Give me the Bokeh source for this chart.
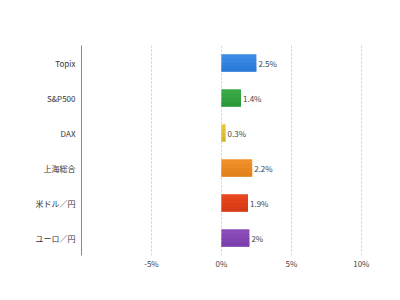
from bokeh.plotting import figure
from bokeh.models import ColumnDataSource, Range1d, FactorRange, FixedTicker, PrintfTickFormatter
from bokeh.transform import dodge
from bokeh.core.properties import value
from bokeh.embed import file_html
from bokeh.resources import INLINE

# Market changes (%)
markets = ["Topix", "S&P500", "DAX", "上海総合", "米ドル／円", "ユーロ／円"]
changes = [2.5, 1.4, 0.3, 2.2, 1.9, 2.0]
colors = ["#3a8ae6", "#3aa845", "#e8c83a", "#f0902a", "#e8461e", "#8a4cb8"]
dark_colors = ["#1f6ccc", "#208a30", "#c8a820", "#d87410", "#c83010", "#6c34a0"]
x_ticks = [-5, 0, 5, 10]

FONT = "Noto Sans CJK JP"

src = ColumnDataSource(dict(
    market=markets,
    change=changes,
    color=colors,
    dark=dark_colors,
    label=[f"{v:g}%" for v in changes],
))

p = figure(
    width=400, height=300,
    y_range=FactorRange(*reversed(markets)),
    x_range=Range1d(-10, 12.8),
    output_backend="svg", toolbar_location=None,
    min_border_left=81, min_border_right=0, min_border_top=45, min_border_bottom=45,
)
p.outline_line_color = None
p.background_fill_color = "white"
p.border_fill_color = "white"

# bars: lighter top shading down to a darker bottom
p.hbar(y="market", right="change", left=0, height=0.5, source=src,
       fill_color="color", line_color=None)
for off, h, a in [(-0.0625, 0.375, 0.15), (-0.125, 0.25, 0.2), (-0.1875, 0.125, 0.25)]:
    p.hbar(y=dodge("market", off, range=p.y_range), right="change", left=0, height=h,
           source=src, fill_color="dark", fill_alpha=a, line_color=None)

# value labels at the bar ends
p.text(x="change", y="market", text="label", source=src,
       x_offset=2, text_align="left", text_baseline="middle",
       text_font=value(FONT), text_font_size="8px", text_color="#444444")

# x axis: percent ticks, no axis line
p.xaxis.ticker = FixedTicker(ticks=x_ticks)
p.xaxis.formatter = PrintfTickFormatter(format="%d%%")
p.xaxis.axis_line_color = None
p.xaxis.major_tick_line_color = None
p.xaxis.major_tick_out = 0
p.xaxis.minor_tick_out = 0
p.xaxis.minor_tick_line_color = None
p.xaxis.major_label_text_font = FONT
p.xaxis.major_label_text_font_size = "8px"
p.xaxis.major_label_text_color = "#444444"
p.xaxis.major_label_standoff = 2

# y axis: category labels with a plain vertical line
p.yaxis.axis_line_color = "#888888"
p.yaxis.axis_line_width = 1
p.yaxis.major_tick_line_color = None
p.yaxis.major_tick_out = 0
p.yaxis.minor_tick_out = 0
p.yaxis.minor_tick_line_color = None
p.yaxis.major_label_text_font = FONT
p.yaxis.major_label_text_font_size = "8px"
p.yaxis.major_label_text_color = "#333333"
p.yaxis.major_label_standoff = 6

p.ygrid.grid_line_color = None
p.xgrid.grid_line_color = "#cccccc"
p.xgrid.grid_line_dash = "2 2"
p.xgrid.grid_line_width = 1

open("out.html", "w").write(file_html(p, INLINE))
